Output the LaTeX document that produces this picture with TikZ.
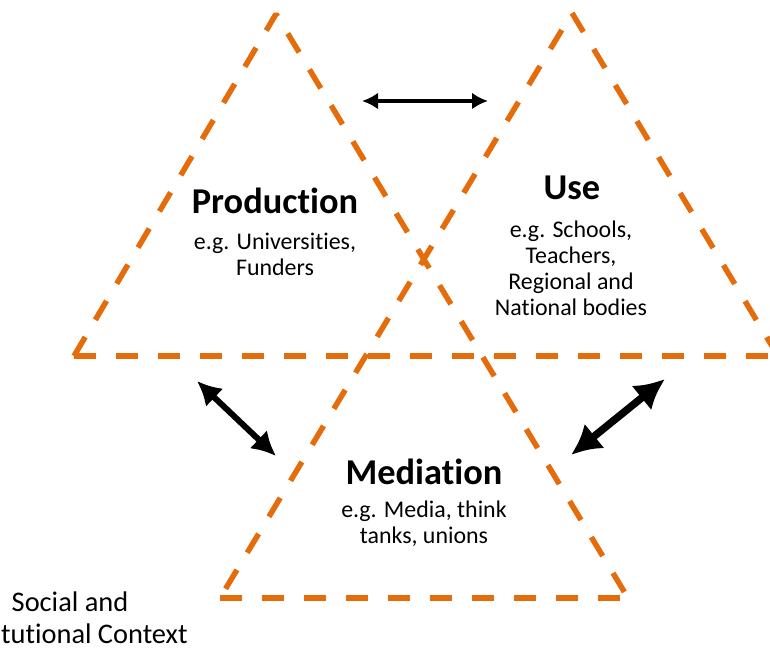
\documentclass[tikz,border=0pt]{standalone}
\usepackage{fontspec}
\setmainfont[Ligatures=NoCommon]{Carlito}
\usetikzlibrary{arrows.meta}
\definecolor{triorange}{RGB}{228,108,10}
\begin{document}
\begin{tikzpicture}[>=latex,line join=bevel,
  edge/.style={draw=triorange,line width=5.5bp,dash pattern=on 22bp off 20bp},
  head/.style={font=\bfseries\fontsize{36.5}{40}\selectfont},
  sub/.style={align=center,font=\fontsize{24}{26}\selectfont},
  link/.style={black,line width=#1,{Latex[length=4*#1,width=4.2*#1]}-{Latex[length=4*#1,width=4.2*#1]}},
]
\useasboundingbox (0bp,0bp) rectangle (770bp,648bp);
%%
\coordinate (prodL) at (74bp,292bp);
\coordinate (prodT) at (276bp,634bp);
\coordinate (useT) at (572bp,635bp);
\coordinate (useR) at (778bp,292bp);
\coordinate (medL) at (220bp,50bp);
\coordinate (medR) at (628bp,50bp);
%
\draw [edge] (prodL) -- (useR);
\draw [edge] (prodL) -- (prodT) -- (medR);
\draw [edge] (useR) -- (useT) -- (medL);
\draw [edge] (medL) -- (medR);
%
\node (prod) at (275bp,447bp) [draw=none,head] {Production};
  \node (prodsub) at (275bp,394bp) [draw=none,sub] {e.g. Universities,\\Funders};
  \node (use) at (572bp,460bp) [draw=none,head] {Use};
  \node (usesub) at (571bp,380bp) [draw=none,sub] {e.g. Schools,\\Teachers,\\Regional and\\National bodies};
  \node (med) at (424bp,176bp) [draw=none,head] {Mediation};
  \node (medsub) at (424bp,124bp) [draw=none,sub] {e.g. Media, think\\tanks, unions};
  \node (context) at (70bp,30bp) [draw=none,align=center,font=\fontsize{28.5}{32}\selectfont] {Social and\\Institutional Context};
%
\coordinate (topA) at (362bp,547bp);
\coordinate (topB) at (488bp,547bp);
\coordinate (leftA) at (197bp,267bp);
\coordinate (leftB) at (276bp,192bp);
\coordinate (rightA) at (665bp,269bp);
\coordinate (rightB) at (571bp,193bp);
  \draw [link=4bp] (topA) -- (topB);
  \draw [link=6bp] (leftA) -- (leftB);
  \draw [link=7.5bp] (rightA) -- (rightB);
%
\end{tikzpicture}
\end{document}
